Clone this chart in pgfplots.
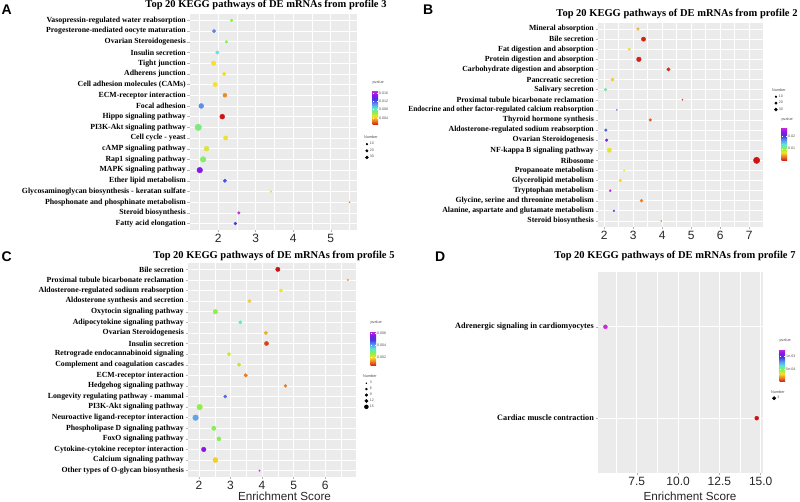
\documentclass[border=0pt]{standalone}
\usepackage{pgfplots}
\usepackage{pgfplotstable}
\pgfplotsset{compat=1.18}
\usepackage{fontspec}
\setmainfont{Liberation Serif}
\newfontfamily\sansf{Liberation Sans}
\definecolor{panelbg}{RGB}{235,235,235}
\definecolor{leggray}{RGB}{80,80,80}

\pgfplotsset{
  colormap={kegg}{rgb255=(205,20,20) rgb255=(235,125,35) rgb255=(245,225,45) rgb255=(140,240,70) rgb255=(90,230,220) rgb255=(95,145,240) rgb255=(60,60,225) rgb255=(140,20,235) rgb255=(205,40,225)},
  kegg/.style={
    scale only axis, anchor=south west, clip=false,
    colormap name=kegg,
    axis background/.style={fill=panelbg},
    axis line style={draw=none},
    y dir=reverse,
    xmajorgrids, ymajorgrids, xminorgrids,
    major grid style={white, line width=0.7pt},
    minor grid style={white, line width=0.35pt},
    tick align=outside,
    major tick length=2.5pt,
    minor tick length=0pt,
    tick style={gray!60, line width=0.4pt},
    xtick pos=left, ytick pos=left,
    x tick label style={font=\sansf\fontsize{12}{13}\selectfont, text=black!85, inner sep=1.5pt},
    y tick label style={font=\bfseries\fontsize{7.8}{8}\selectfont, text=black, inner sep=1.5pt},
    legend cell align=left,
  },
  dots/.style={scatter, only marks, mark=*, forget plot,
    scatter/use mapped color={draw=mapped color, fill=mapped color},
    point meta=\thisrow{p},
    visualization depends on={#1*sqrt(\thisrow{n}) \as \msz},
    scatter/@pre marker code/.append style={/tikz/mark size=\msz}},
  cbar/.style={scale only axis, at={(parent axis.north east)}, anchor=north west,
    width=5.5pt, axis line style={draw=none},
    tick align=inside, major tick length=1.2pt, ytick style={draw=white, line width=0.4pt},
    yticklabel style={font=\sansf\fontsize{3.6}{4}\selectfont, text=leggray, inner sep=1pt},
    title=pvalue, title style={font=\sansf\fontsize{3.8}{4}\selectfont, text=leggray, at={(0,1)}, anchor=south west, inner sep=0.6pt, xshift=-0.8pt},
    scaled y ticks=false},
  numleg/.style={draw=none, fill=none, anchor=north west, inner sep=0pt,
    font=\sansf\fontsize{3.6}{4}\selectfont, text=leggray,
    nodes={inner sep=0.5pt}, row sep=#1,
    /tikz/every odd column/.append style={column sep=0.8pt}},
  numkey/.style={legend image code/.code={\fill[black] (1pt,0pt) circle (#1);}},
}

% y  x  n  p
\pgfplotstableread{
y x n p
1 2.36 5 0.0068
2 1.89 9 0.0111
3 2.22 5 0.0068
4 1.98 9 0.0088
5 1.88 15 0.0047
6 2.16 9 0.0049
7 1.92 13 0.0047
8 2.18 11 0.0029
9 1.55 17 0.0109
10 2.11 17 0.0006
11 1.47 30 0.0075
12 2.20 13 0.0049
13 1.69 17 0.0052
14 1.60 22 0.0072
15 1.51 22 0.0147
16 2.18 8 0.0124
17 3.41 2 0.0050
18 5.50 1 0.0027
19 2.55 5 0.0170
20 2.46 6 0.0132
}\tabA

\pgfplotstableread{
y x n p
1 3.17 5 0.0056
2 3.36 13 0.0007
3 2.87 5 0.0070
4 3.20 15 0.0007
5 4.22 8 0.0010
6 2.29 8 0.0064
7 2.05 6 0.0124
8 4.70 1 0.0018
9 2.44 1 0.0178
10 3.59 5 0.0024
11 2.06 5 0.0192
12 2.09 5 0.0232
13 2.18 13 0.0075
14 7.26 28 0.0002
15 2.69 1 0.0083
16 2.56 6 0.0067
17 2.21 3 0.0265
18 3.29 6 0.0035
19 2.34 2 0.0197
20 3.97 1 0.0043
}\tabB

\pgfplotstableread{
y x n p
1 4.50 9 0.0006
2 6.72 1 0.0015
3 4.60 5 0.0021
4 3.60 6 0.0019
5 2.52 10 0.0027
6 3.31 5 0.0033
7 4.12 6 0.0017
8 4.14 8 0.0009
9 2.95 6 0.0023
10 3.27 6 0.0024
11 3.48 6 0.0013
12 4.74 4 0.0013
13 2.83 5 0.0045
14 2.02 15 0.0027
15 1.89 15 0.0040
16 2.47 9 0.0028
17 2.63 8 0.0028
18 2.15 10 0.0056
19 2.52 12 0.0019
20 3.92 1 0.0063
}\tabC

\pgfplotstableread{
y x n p
1 5.60 3 0.00126
2 14.76 3 0.000034
}\tabD

\begin{document}
\begin{tikzpicture}
\useasboundingbox (0,0) rectangle (800pt,502pt);

% ---------------- Panel A ----------------
\begin{axis}[kegg, at={(190pt,272pt)}, width=167pt, height=216pt,
  xmin=1.25, xmax=5.7, ymin=0.4, ymax=20.6,
  xtick={2,3,4,5}, xticklabels={2,3,4,5}, minor xtick={1.5,2.5,3.5,4.5,5.5},
  ytick={1,...,20},
  yticklabels={Vasopressin-regulated water reabsorption, Progesterone-mediated oocyte maturation, Ovarian Steroidogenesis, Insulin secretion, Tight junction, Adherens junction, Cell adhesion molecules (CAMs), ECM-receptor interaction, Focal adhesion, Hippo signaling pathway, PI3K-Akt signaling pathway, Cell cycle - yeast, cAMP signaling pathway, Rap1 signaling pathway, MAPK signaling pathway, Ether lipid metabolism, Glycosaminoglycan biosynthesis - keratan sulfate, Phosphonate and phosphinate metabolism, Steroid biosynthesis, Fatty acid elongation},
  point meta min=0.0006, point meta max=0.017,
  colorbar, colorbar style={cbar, xshift=7pt, yshift=-77pt, height=34pt,
    ytick={0.004,0.008,0.012,0.016}, yticklabels={0.004,0.008,0.012,0.016}},
  legend style={numleg=1.6pt, at={(1,1)}, xshift=8pt, yshift=-127.5pt},
]
\addplot[dots=0.6] table[x=x,y=y] {\tabA};
\addlegendimage{numkey=0.89pt}\addlegendentry{10}
\addlegendimage{numkey=1.25pt}\addlegendentry{20}
\addlegendimage{numkey=1.53pt}\addlegendentry{30}
\end{axis}

% ---------------- Panel B ----------------
\begin{axis}[kegg, at={(598pt,275pt)}, width=165pt, height=204pt,
  xmin=1.79, xmax=7.48, ymin=0.4, ymax=20.6,
  xtick={2,3,4,5,6,7}, xticklabels={2,3,4,5,6,7}, minor xtick={2.5,3.5,4.5,5.5,6.5},
  ytick={1,...,20},
  yticklabels={Mineral absorption, Bile secretion, Fat digestion and absorption, Protein digestion and absorption, Carbohydrate digestion and absorption, Pancreatic secretion, Salivary secretion, Proximal tubule bicarbonate reclamation, \scalebox{0.94}[1]{Endocrine and other factor-regulated calcium reabsorption}, Thyroid hormone synthesis, Aldosterone-regulated sodium reabsorption, Ovarian Steroidogenesis, NF-kappa B signaling pathway, Ribosome, Propanoate metabolism, Glycerolipid metabolism, Tryptophan metabolism, {Glycine, serine and threonine metabolism}, {Alanine, aspartate and glutamate metabolism}, Steroid biosynthesis},
  point meta min=0.0002, point meta max=0.0273,
  colorbar, colorbar style={cbar, xshift=10pt, yshift=-104.7pt, height=33pt,
    ytick={0.01,0.02}, yticklabels={0.01,0.02}},
  legend style={numleg=1.4pt, at={(1,1)}, xshift=11pt, yshift=-71pt},
]
\addplot[dots=0.6] table[x=x,y=y] {\tabB};
\addlegendimage{numkey=0.89pt}\addlegendentry{10}
\addlegendimage{numkey=1.25pt}\addlegendentry{20}
\addlegendimage{numkey=1.53pt}\addlegendentry{30}
\end{axis}

% ---------------- Panel C ----------------
\begin{axis}[kegg, at={(188pt,25pt)}, width=168pt, height=214pt,
  xmin=1.65, xmax=6.98, ymin=0.4, ymax=20.6,
  xtick={2,3,4,5,6}, xticklabels={2,3,4,5,6}, minor xtick={2.5,3.5,4.5,5.5,6.5},
  ytick={1,...,20},
  yticklabels={Bile secretion, Proximal tubule bicarbonate reclamation, Aldosterone-regulated sodium reabsorption, Aldosterone synthesis and secretion, Oxytocin signaling pathway, Adipocytokine signaling pathway, Ovarian Steroidogenesis, Insulin secretion, Retrograde endocannabinoid signaling, Complement and coagulation cascades, ECM-receptor interaction, Hedgehog signaling pathway, Longevity regulating pathway - mammal, PI3K-Akt signaling pathway, Neuroactive ligand-receptor interaction, Phospholipase D signaling pathway, FoxO signaling pathway, Cytokine-cytokine receptor interaction, Calcium signaling pathway, Other types of O-glycan biosynthesis},
  point meta min=0.0006, point meta max=0.0063,
  colorbar, colorbar style={cbar, xshift=6pt, yshift=-68pt, height=35pt,
    ytick={0.002,0.004,0.006}, yticklabels={0.002,0.004,0.006}},
  legend style={numleg=0.9pt, at={(1,1)}, xshift=8pt, yshift=-117.5pt},
]
\addplot[dots=0.73] table[x=x,y=y] {\tabC};
\addlegendimage{numkey=0.5pt}\addlegendentry{3}
\addlegendimage{numkey=1.0pt}\addlegendentry{6}
\addlegendimage{numkey=1.35pt}\addlegendentry{9}
\addlegendimage{numkey=1.65pt}\addlegendentry{12}
\addlegendimage{numkey=2.0pt}\addlegendentry{15}
\end{axis}

% ---------------- Panel D ----------------
\begin{axis}[kegg, at={(598pt,29pt)}, width=165pt, height=201pt,
  xmin=5.15, xmax=15.14, ymin=0.4, ymax=2.6,
  xtick={7.5,10,12.5,15}, xticklabels={7.5,10.0,12.5,15.0}, minor xtick={6.25,8.75,11.25,13.75},
  ytick={1,2},
  yticklabels={Adrenergic signaling in cardiomyocytes, Cardiac muscle contraction},
  y tick label style={font=\bfseries\fontsize{8.2}{9}\selectfont},
  point meta min=0.000034, point meta max=0.00126,
  colorbar, colorbar style={cbar, xshift=8pt, yshift=-77pt, height=33pt,
    ytick={0.0005,0.001}, yticklabels={5e-04,1e-03}},
  legend style={numleg=1pt, at={(1,1)}, xshift=9pt, yshift=-123.5pt},
]
\addplot[dots=1.15] table[x=x,y=y] {\tabD};
\addlegendimage{numkey=1.7pt}\addlegendentry{3}
\end{axis}

% ---------------- Titles, letters, labels ----------------
\def\titfont{\bfseries\fontsize{10.5}{12}\selectfont}
\node[anchor=base, font=\titfont, inner sep=0] at (266pt,494.3pt) {Top 20 KEGG pathways of DE mRNAs from profile 3};
\node[anchor=base, font=\titfont, inner sep=0] at (677pt,485.3pt) {Top 20 KEGG pathways of DE mRNAs from profile 2};
\node[anchor=base, font=\titfont, inner sep=0] at (274pt,243.7pt) {Top 20 KEGG pathways of DE mRNAs from profile 5};
\node[anchor=base, font=\titfont, inner sep=0] at (675pt,243.7pt) {Top 20 KEGG pathways of DE mRNAs from profile 7};

\def\letfont{\sansf\bfseries\fontsize{14}{16}\selectfont}
\node[anchor=base west, font=\letfont, inner sep=0] at (1.5pt,487pt) {A};
\node[anchor=base west, font=\letfont, inner sep=0] at (423pt,487pt) {B};
\node[anchor=base west, font=\letfont, inner sep=0] at (1.5pt,240pt) {C};
\node[anchor=base west, font=\letfont, inner sep=0] at (435pt,240pt) {D};

\def\xlabfont{\sansf\fontsize{11.7}{13}\selectfont}
\node[anchor=base, font=\xlabfont, inner sep=0, text=black!85] at (284.5pt,1pt) {Enrichment Score};
\node[anchor=base, font=\xlabfont, inner sep=0, text=black!85] at (690pt,1pt) {Enrichment Score};

\def\numfont{\sansf\fontsize{3.8}{4}\selectfont}
\node[anchor=base west, font=\numfont, text=leggray, inner sep=0] at (364pt,363pt) {Number};
\node[anchor=base west, font=\numfont, text=leggray, inner sep=0] at (772pt,410pt) {Number};
\node[anchor=base west, font=\numfont, text=leggray, inner sep=0] at (363pt,124pt) {Number};
\node[anchor=base west, font=\numfont, text=leggray, inner sep=0] at (771pt,108.5pt) {Number};
\end{tikzpicture}
\end{document}
